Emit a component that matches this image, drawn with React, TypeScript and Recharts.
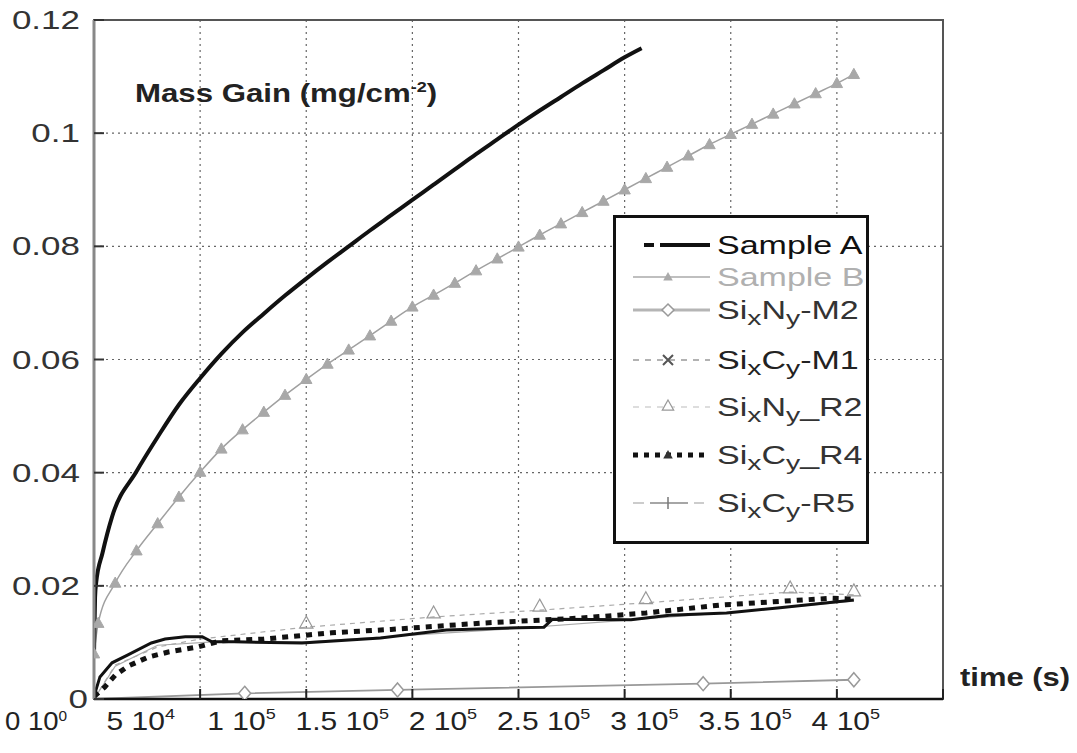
import React from "react";
import {
  LineChart,
  Line,
  XAxis,
  YAxis,
  CartesianGrid,
  ReferenceArea,
} from "recharts";

// ---- data (time in s, mass gain in mg/cm-2) ----
const xTicks = [0, 50000, 100000, 150000, 200000, 250000, 300000, 350000, 400000];
const xTickMantissa = ["0", "5", "1", "1.5", "2", "2.5", "3", "3.5", "4"];
const xTickExponent = ["0", "4", "5", "5", "5", "5", "5", "5", "5"];
const yTicks = [0, 0.02, 0.04, 0.06, 0.08, 0.1, 0.12];
const yTickLabels = ["0", "0.02", "0.04", "0.06", "0.08", "0.1", "0.12"];

const sampleATime = [
  0, 500, 1000, 4000, 8500, 20000, 30000, 40000, 50000, 60000, 70000, 80000,
  90000, 100000, 110000, 120000, 130000, 140000, 150000, 160000, 170000,
  180000, 190000, 200000, 210000, 220000, 230000, 240000, 250000, 258000,
];
const sampleAGain = [
  0.008, 0.018, 0.0205, 0.0258, 0.0322, 0.0402, 0.0463, 0.052, 0.0567, 0.061,
  0.0648, 0.0681, 0.0713, 0.0743, 0.0772, 0.08, 0.0828, 0.0855, 0.0882,
  0.0909, 0.0936, 0.0963, 0.0989, 0.1015, 0.104, 0.1064, 0.1088, 0.1111,
  0.1134, 0.115,
];

const sampleBTime = [
  0, 2000, 10000, 20000, 30000, 40000, 50000, 60000, 70000, 80000, 90000,
  100000, 110000, 120000, 130000, 140000, 150000, 160000, 170000, 180000,
  190000, 200000, 210000, 220000, 230000, 240000, 250000, 260000, 270000,
  280000, 290000, 300000, 310000, 320000, 330000, 340000, 350000, 358000,
];
const sampleBGain = [
  0.008, 0.0134, 0.0205, 0.0262, 0.031, 0.0357, 0.0401, 0.0442, 0.0476,
  0.0507, 0.0537, 0.0565, 0.0592, 0.0617, 0.0642, 0.0668, 0.0693, 0.0714,
  0.0735, 0.0757, 0.0778, 0.0799, 0.082, 0.084, 0.086, 0.088, 0.09, 0.092,
  0.094, 0.096, 0.098, 0.0998, 0.1016, 0.1034, 0.1052, 0.107, 0.1088, 0.1104,
];

const m2Time = [0, 71000, 143000, 287000, 358000];
const m2Gain = [0, 0.001, 0.0016, 0.0027, 0.0034];

const m1Time = [
  0, 500, 2800, 8500, 16000, 27000, 33500, 43000, 51000, 55600, 66000, 98000,
  135000, 166000, 200000, 212000, 216000, 253000, 271000, 298000, 322000,
  358000,
];
const m1Gain = [
  0, 0.0011, 0.0039, 0.0064, 0.0078, 0.0099, 0.0106, 0.011, 0.011, 0.0101,
  0.0101, 0.0099, 0.0108, 0.0122, 0.0126, 0.0127, 0.0141, 0.014, 0.0148,
  0.0152, 0.0161, 0.0175,
];

const r2Time = [0, 10000, 30000, 50000, 100000, 160000, 210000, 260000, 328000, 358000];
const r2Gain = [0, 0.006, 0.0092, 0.0106, 0.0127, 0.0145, 0.0157, 0.017, 0.0189, 0.0184];

const r4Time = [
  0, 5000, 10000, 16000, 25500, 35000, 49000, 60000, 80000, 112000, 140000,
  182000, 229000, 260000, 295000, 347000, 358000,
];
const r4Gain = [
  0.0004, 0.0021, 0.0042, 0.0058, 0.0074, 0.0083, 0.0092, 0.0103, 0.0106,
  0.0117, 0.0123, 0.0134, 0.0143, 0.0152, 0.0166, 0.0178, 0.0177,
];

const r5Time = [0, 10000, 30000, 60000, 100000, 150000, 200000, 250000, 300000, 358000];
const r5Gain = [0, 0.0058, 0.0095, 0.0102, 0.0101, 0.0113, 0.0125, 0.0139, 0.0153, 0.0173];

const toPoints = (t: number[], m: number[]) => t.map((v, i) => ({ t: v, m: m[i] }));

const FONT = "'Liberation Sans', Arial, Helvetica, sans-serif";

// ---- markers ----
const triPath = (cx: number, cy: number, r: number) =>
  `M${cx},${cy - r} L${cx + r * 0.95},${cy + r * 0.7} L${cx - r * 0.95},${cy + r * 0.7} Z`;

const TriDot = (props: any) => {
  const { cx, cy, index } = props;
  if (cx == null || cy == null) return <g key={`b${index}`} />;
  return <path key={`b${index}`} d={triPath(cx, cy, 6)} fill="#a8a8a8" stroke="#a8a8a8" />;
};

const DiamondDot = (props: any) => {
  const { cx, cy, index } = props;
  if (cx == null || cy == null || index === 0) return <g key={`d${index}`} />;
  return (
    <path
      key={`d${index}`}
      d={`M${cx},${cy - 7} L${cx + 6},${cy} L${cx},${cy + 7} L${cx - 6},${cy} Z`}
      fill="#fff"
      stroke="#999"
      strokeWidth={1.5}
    />
  );
};

const OpenTriDot = (props: any) => {
  const { cx, cy, index, payload } = props;
  if (cx == null || cy == null || payload.t < 90000) return <g key={`r${index}`} />;
  return (
    <path key={`r${index}`} d={triPath(cx, cy - 4, 7)} fill="none" stroke="#999" strokeWidth={1.2} />
  );
};

// ---- ticks ----
const XTick = (props: any) => {
  const { x, y, index } = props;
  const dx = -(54 + 5.4 * index);
  if (index === 0) {
    // first label is drawn wider in the original: "0" then "10^0"
    return (
      <g transform={`translate(${x},${y + 31})`} fontFamily={FONT} fontSize={25} fill="#222">
        <text x={-81} y={0} transform="scale(1.1,1)">0</text>
        <text x={-60} y={0} transform="scale(1.1,1)">
          10
          <tspan dy={-9} fontSize={14}>0</tspan>
        </text>
      </g>
    );
  }
  return (
    <g transform={`translate(${x + dx},${y + 31})`}>
      <text
        x={0}
        y={0}
        textAnchor="middle"
        transform="scale(1.2,1)"
        fontFamily={FONT}
        fontSize={25}
        fill="#222"
      >
        {xTickMantissa[index]} 10
        <tspan dy={-11} fontSize={15}>
          {xTickExponent[index]}
        </tspan>
      </text>
    </g>
  );
};

const YTick = (props: any) => {
  const { x, y, index } = props;
  // the bottom "0" sits a little closer to the axis in the original
  const shift = index === 0 ? 8 : 0;
  return (
    <g transform={`translate(${x + shift},${y + 9})`}>
      <text
        x={0}
        y={0}
        textAnchor="end"
        transform="scale(1.4,1)"
        fontFamily={FONT}
        fontSize={25}
        fill="#333"
      >
        {yTickLabels[index]}
      </text>
    </g>
  );
};

// ---- legend ----
const legendRows = [
  { key: "A", top: 30, color: "#111", label: <>Sample A</> },
  { key: "B", top: 62, color: "#b0b0b0", label: <>Sample B</> },
  { key: "M2", top: 95, color: "#333", label: <>Si<sub>x</sub>N<sub>y</sub>-M2</> },
  { key: "M1", top: 145, color: "#222", label: <>Si<sub>x</sub>C<sub>y</sub>-M1</> },
  { key: "R2", top: 192, color: "#333", label: <>Si<sub>x</sub>N<sub>y</sub>_R2</> },
  { key: "R4", top: 240, color: "#333", label: <>Si<sub>x</sub>C<sub>y</sub>_R4</> },
  { key: "R5", top: 288, color: "#333", label: <>Si<sub>x</sub>C<sub>y</sub>-R5</> },
];

const Swatch = ({ k }: { k: string }) => {
  const c = 15;
  switch (k) {
    case "A":
      return (
        <>
          <line x1={28} x2={38} y1={c} y2={c} stroke="#111" strokeWidth={4} />
          <line x1={44} x2={94} y1={c} y2={c} stroke="#111" strokeWidth={4} />
        </>
      );
    case "B":
      return (
        <>
          <line x1={17} x2={94} y1={c} y2={c} stroke="#aaa" strokeWidth={1.5} />
          <path d={triPath(52, c, 5)} fill="#aaa" />
        </>
      );
    case "M2":
      return (
        <>
          <line x1={17} x2={94} y1={c} y2={c} stroke="#b5b5b5" strokeWidth={3} />
          <path d={`M52,${c - 6} L58,${c} L52,${c + 6} L46,${c} Z`} fill="#fff" stroke="#999" strokeWidth={1.5} />
        </>
      );
    case "M1":
      return (
        <>
          <line x1={17} x2={94} y1={c} y2={c} stroke="#999" strokeWidth={1.5} strokeDasharray="6 6" />
          <path d={`M47,${c - 5} L57,${c + 5} M57,${c - 5} L47,${c + 5}`} stroke="#555" strokeWidth={2} />
        </>
      );
    case "R2":
      return (
        <>
          <line x1={17} x2={94} y1={c} y2={c} stroke="#bbb" strokeWidth={1.2} strokeDasharray="6 6" />
          <path d={triPath(52, c - 1, 6)} fill="#fff" stroke="#999" strokeWidth={1.2} />
        </>
      );
    case "R4":
      return (
        <>
          <line x1={17} x2={94} y1={c} y2={c} stroke="#111" strokeWidth={5} strokeDasharray="5 6" />
          <path d={triPath(52, c, 5)} fill="#333" />
        </>
      );
    default:
      return (
        <>
          <line x1={17} x2={28} y1={c} y2={c} stroke="#bbb" strokeWidth={1.5} />
          <line x1={34} x2={72} y1={c} y2={c} stroke="#888" strokeWidth={1.5} />
          <line x1={78} x2={88} y1={c} y2={c} stroke="#bbb" strokeWidth={1.5} />
          <path d={`M52,${c - 6} L52,${c + 6}`} stroke="#777" strokeWidth={1.5} />
        </>
      );
  }
};

const LegendBox = () => (
  <div
    style={{
      position: "absolute",
      left: 613,
      top: 215,
      width: 256,
      height: 329,
      border: "3px solid #111",
      boxSizing: "border-box",
      background: "#fff",
      fontFamily: FONT,
    }}
  >
    {legendRows.map((r) => (
      <div key={r.key} style={{ position: "absolute", left: 0, top: r.top - 18, height: 30, width: 250 }}>
        <svg width={100} height={30} style={{ position: "absolute", left: 0, top: 0 }}>
          <Swatch k={r.key} />
        </svg>
        <div
          style={{
            position: "absolute",
            left: 101,
            top: 0,
            lineHeight: "30px",
            fontSize: 25,
            color: r.color,
            whiteSpace: "nowrap",
            transform: "scaleX(1.36)",
            transformOrigin: "left center",
          }}
        >
          {r.label}
        </div>
      </div>
    ))}
  </div>
);

export default function App() {
  return (
    <div style={{ position: "absolute", left: 0, top: 0, width: 1077, height: 753, background: "#fff" }}>
      <LineChart
        width={1077}
        height={753}
        margin={{ top: 20, right: 134, bottom: 0, left: 0 }}
        style={{ fontFamily: FONT }}
      >
        <CartesianGrid stroke="#666" strokeDasharray="2 4" strokeWidth={1.2} />
        <XAxis
          type="number"
          dataKey="t"
          domain={[0, 400000]}
          ticks={xTicks}
          allowDataOverflow
          height={54}
          tickSize={-10}
          tickMargin={10}
          tick={<XTick />}
          interval={0}
          axisLine={{ stroke: "#111", strokeWidth: 2.5 }}
          tickLine={{ stroke: "#222", strokeWidth: 2 }}
        />
        <YAxis
          type="number"
          domain={[0, 0.12]}
          ticks={yTicks}
          allowDataOverflow
          width={94}
          tickSize={-10}
          tickMargin={24}
          tick={<YTick />}
          interval={0}
          axisLine={{ stroke: "#888", strokeWidth: 3 }}
          tickLine={{ stroke: "#333", strokeWidth: 2 }}
        />
        <ReferenceArea
          x1={0}
          x2={400000}
          y1={0}
          y2={0.12}
          fill="none"
          stroke="#555"
          strokeWidth={2}
          ifOverflow="visible"
        />
        <Line
          data={toPoints(m2Time, m2Gain)}
          dataKey="m"
          type="linear"
          stroke="#999"
          strokeWidth={1.8}
          dot={DiamondDot}
          isAnimationActive={false}
        />
        <Line
          data={toPoints(r5Time, r5Gain)}
          dataKey="m"
          type="linear"
          stroke="#aaa"
          strokeWidth={1.2}
          dot={false}
          isAnimationActive={false}
        />
        <Line
          data={toPoints(r2Time, r2Gain)}
          dataKey="m"
          type="linear"
          stroke="#aaa"
          strokeWidth={1.2}
          strokeDasharray="5 5"
          dot={OpenTriDot}
          isAnimationActive={false}
        />
        <Line
          data={toPoints(r4Time, r4Gain)}
          dataKey="m"
          type="linear"
          stroke="#111"
          strokeWidth={5}
          strokeDasharray="6 6"
          dot={false}
          isAnimationActive={false}
        />
        <Line
          data={toPoints(m1Time, m1Gain)}
          dataKey="m"
          type="linear"
          stroke="#111"
          strokeWidth={3}
          dot={false}
          isAnimationActive={false}
        />
        <Line
          data={toPoints(sampleBTime, sampleBGain)}
          dataKey="m"
          type="monotone"
          stroke="#a0a0a0"
          strokeWidth={1.5}
          dot={TriDot}
          isAnimationActive={false}
        />
        <Line
          data={toPoints(sampleATime, sampleAGain)}
          dataKey="m"
          type="monotone"
          stroke="#111"
          strokeWidth={4}
          dot={false}
          isAnimationActive={false}
        />
      </LineChart>

      <div
        style={{
          position: "absolute",
          left: 135,
          top: 78,
          fontFamily: FONT,
          fontWeight: "bold",
          fontSize: 26,
          color: "#222",
          whiteSpace: "nowrap",
          transform: "scaleX(1.2)",
          transformOrigin: "left center",
        }}
      >
        Mass Gain (mg/cm<sup style={{ fontSize: 15 }}>-2</sup>)
      </div>
      <div
        style={{
          position: "absolute",
          left: 960,
          top: 662,
          fontFamily: FONT,
          fontWeight: "bold",
          fontSize: 26,
          color: "#222",
          whiteSpace: "nowrap",
          transform: "scaleX(1.19)",
          transformOrigin: "left center",
        }}
      >
        time (s)
      </div>
      <LegendBox />
    </div>
  );
}
